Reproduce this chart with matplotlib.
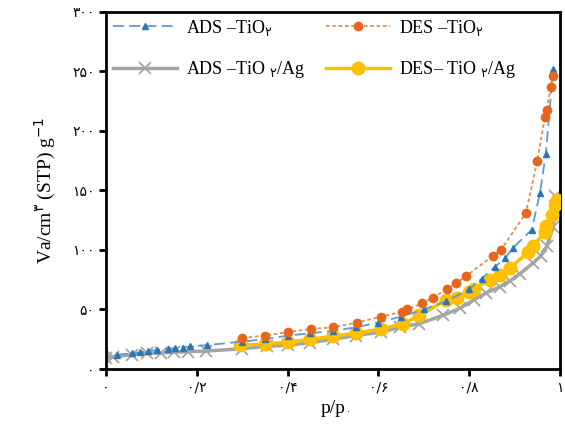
import matplotlib
matplotlib.use('Agg')
import matplotlib.pyplot as plt

plt.rcParams['font.family'] = ['Liberation Serif', 'DejaVu Sans']
plt.rcParams['mathtext.fontset'] = 'custom'
plt.rcParams['mathtext.rm'] = 'DejaVu Sans'
plt.rcParams['mathtext.it'] = 'DejaVu Sans'
plt.rcParams['mathtext.default'] = 'rm'

# adsorption TiO2
ads_tio2_x = [0.024, 0.057, 0.075, 0.093, 0.112, 0.137, 0.152, 0.170, 0.185, 0.222,
              0.30, 0.35, 0.40, 0.45, 0.50, 0.55, 0.60, 0.65, 0.70, 0.75, 0.80,
              0.828, 0.857, 0.879, 0.897, 0.938, 0.956, 0.969, 0.985]
ads_tio2_y = [12, 13, 14, 15, 16, 17, 17.5, 18, 19, 20,
              23, 25, 28, 30, 32, 35, 39, 44, 50, 57, 67,
              76, 86, 93, 102, 117, 148, 181, 252]

# desorption TiO2
des_tio2_x = [0.30, 0.35, 0.40, 0.452, 0.50, 0.553, 0.606, 0.652, 0.663, 0.696, 0.72,
              0.751, 0.771, 0.793, 0.852, 0.870, 0.925, 0.950, 0.967, 0.971, 0.980, 0.984]
des_tio2_y = [26, 28, 31, 33.6, 35, 39, 44, 48, 50, 55, 60,
              67, 72, 78, 95, 100, 131, 175, 212, 218, 237, 246]

# adsorption TiO2/Ag
ads_ag_x = [0.0, 0.015, 0.057, 0.09, 0.12, 0.15, 0.18, 0.22,
            0.30, 0.355, 0.40, 0.45, 0.50, 0.55, 0.606, 0.648, 0.69, 0.742,
            0.78, 0.81, 0.838, 0.868, 0.89, 0.912, 0.941, 0.958, 0.971, 0.985, 0.989]
ads_ag_y = [9, 10, 12, 13, 13.5, 14, 14.5, 15,
            17, 19, 20, 22, 25, 28, 31, 35, 38, 45,
            51, 58, 64, 69, 74, 80, 89, 95, 103, 119, 145]

# desorption TiO2/Ag
des_ag_x = [0.295, 0.35, 0.40, 0.45, 0.50, 0.55, 0.605, 0.655, 0.69, 0.75, 0.773,
            0.80, 0.81, 0.846, 0.868, 0.89, 0.93, 0.94, 0.967, 0.97, 0.982, 0.989, 0.993]
des_ag_y = [20, 21, 22.5, 25, 27.5, 30, 33.5, 38, 45, 58, 60,
            65, 67, 75, 79, 85, 98, 103, 115, 120, 129, 138, 142]

x_ticks = [0, 0.2, 0.4, 0.6, 0.8, 1.0]
x_tick_labels = ['۰', '۰/۲', '۰/۴', '۰/۶', '۰/۸', '۱']
y_ticks = [0, 50, 100, 150, 200, 250, 300]
y_tick_labels = ['۰', '۵۰', '۱۰۰', '۱۵۰', '۲۰۰', '۲۵۰', '۳۰۰']

fig = plt.figure(figsize=(5.65, 4.28), dpi=100)
ax = fig.add_axes([0.188, 0.138, 0.803, 0.834])

ax.plot(ads_ag_x, ads_ag_y, color='#a5a5a5', lw=2.5, marker='x', ms=8, mew=1.3,
        label='ADS –TiO $_{۲}$/Ag', zorder=2)
ax.plot(des_ag_x, des_ag_y, color='#ffc000', lw=2.5, marker='o', ms=9,
        label='DES– TiO $_{۲}$/Ag', zorder=3)
ax.plot(ads_tio2_x, ads_tio2_y, color='#5b9bd5', lw=1.3, ls=(0, (6, 3)),
        marker='^', ms=5, mfc='#2e75b6', mec='#2e75b6', label='ADS –TiO$_{۲}$', zorder=4)
ax.plot(des_tio2_x, des_tio2_y, color='#e0904f', lw=1.3, ls=(0, (2, 1.5)),
        marker='o', ms=6, mfc='#e8661c', mec='#e8661c', label='DES –TiO$_{۲}$', zorder=5)

ax.set_xlim(0, 1)
ax.set_ylim(0, 300)
ax.set_xticks(x_ticks)
ax.set_xticklabels(x_tick_labels, fontsize=10, family='DejaVu Sans')
ax.set_yticks(y_ticks)
ax.set_yticklabels(y_tick_labels, fontsize=10, family='DejaVu Sans')
ax.tick_params(direction='out', length=5, width=2)
for s in ax.spines.values():
    s.set_linewidth(2)

ax.set_xlabel('p/p', fontsize=14, labelpad=4)
ax.text(0.528, -0.118, '۰', transform=ax.transAxes, fontsize=7,
        family='DejaVu Sans', va='center')
ax.set_ylabel('Va/cm$^{۳}$ (STP) g$^{-1}$', fontsize=14, labelpad=10)

h, l = ax.get_legend_handles_labels()
order = [2, 0, 3, 1]
ax.legend([h[i] for i in order], [l[i] for i in order], ncol=2, frameon=False,
          loc='upper left', bbox_to_anchor=(-0.02, 1.03), fontsize=13,
          handlelength=3.5, labelspacing=1.2, columnspacing=1.2, handletextpad=0.5)

fig.savefig('out.png', dpi=100)
